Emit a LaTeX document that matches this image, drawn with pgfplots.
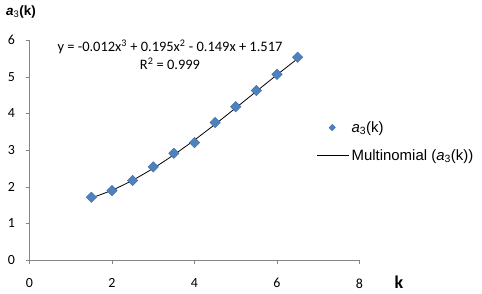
\documentclass[border=0pt]{standalone}
\usepackage{fontspec}
\setmainfont{Liberation Sans}
\newfontfamily\calibri{Carlito}
\usepackage{pgfplots}
\pgfplotsset{compat=1.18}
\definecolor{mblue}{HTML}{4F81BD}
\definecolor{mblueedge}{HTML}{3B6DAE}
\definecolor{axgray}{HTML}{868686}
\pgfplotsset{
  marklegend/.style={legend image code/.code={\draw[#1, every mark/.append style={scale=0.6}] plot coordinates {(15bp,0bp)};}},
  linelegend/.style={legend image code/.code={\draw[#1] (0bp,0bp) -- (32bp,0bp);}},
}
\begin{document}
\begin{tikzpicture}
\path[use as bounding box] (0,0) rectangle (482bp,294bp);
\begin{axis}[
  at={(29.5bp,34bp)}, anchor=south west,
  scale only axis, width=330bp, height=220bp,
  xmin=0, xmax=8, ymin=0, ymax=6,
  axis x line*=bottom, axis y line*=left,
  axis line style={axgray, -},
  xtick={0,2,4,6,8}, ytick={0,1,2,3,4,5,6},
  tick align=outside, major tick length=4bp,
  tick style={axgray},
  /pgf/number format/assume math mode=true,
  ticklabel style={font=\calibri\fontsize{14}{16}\selectfont, black},
  xticklabel style={yshift=-11bp},
  yticklabel style={xshift=-7bp},
  clip=false,
  legend style={at={(rel axis cs:0.87,0.64)}, anchor=north west, draw=none, fill=none,
    font=\fontsize{15}{17}\selectfont, row sep=12bp, inner sep=0pt,
    cells={anchor=west}},
]
\addplot[only marks, mark=square*, mark size=3.7bp, mark options={rotate=45, fill=mblue, draw=mblueedge, line width=0.4pt}, marklegend]
coordinates {
(1.5,1.71) (2,1.89) (2.5,2.17) (3,2.54) (3.5,2.91) (4,3.20)
(4.5,3.75) (5,4.18) (5.5,4.62) (6,5.06) (6.5,5.53)
};
\addlegendentry{\textit{a}\textsubscript{3}(k)}
\addplot[black, line width=0.8pt, smooth, no marks, linelegend]
coordinates {
(1.5,1.692) (2,1.903) (2.5,2.176) (3,2.501) (3.5,2.870) (4,3.273)
(4.5,3.702) (5,4.147) (5.5,4.600) (6,5.051) (6.5,5.492)
};
\addlegendentry{Multinomial (\textit{a}\textsubscript{3}(k))}
\end{axis}
\node[anchor=west, inner sep=0pt, font=\bfseries\fontsize{13.5}{15}\selectfont] at (6bp,282bp) {\textit{a}\textsubscript{\mdseries 3}(k)};
\node[inner sep=0pt, font=\calibri\bfseries\fontsize{18}{20}\selectfont] at (399bp,12bp) {k};
\node[inner sep=0pt, font=\calibri\fontsize{14.5}{16}\selectfont] at (170bp,247.5bp) {y = -0.012x\textsuperscript{3} + 0.195x\textsuperscript{2} - 0.149x + 1.517};
\node[inner sep=0pt, font=\calibri\fontsize{14.5}{16}\selectfont] at (170bp,230bp) {R\textsuperscript{2} = 0.999};
\end{tikzpicture}
\end{document}
